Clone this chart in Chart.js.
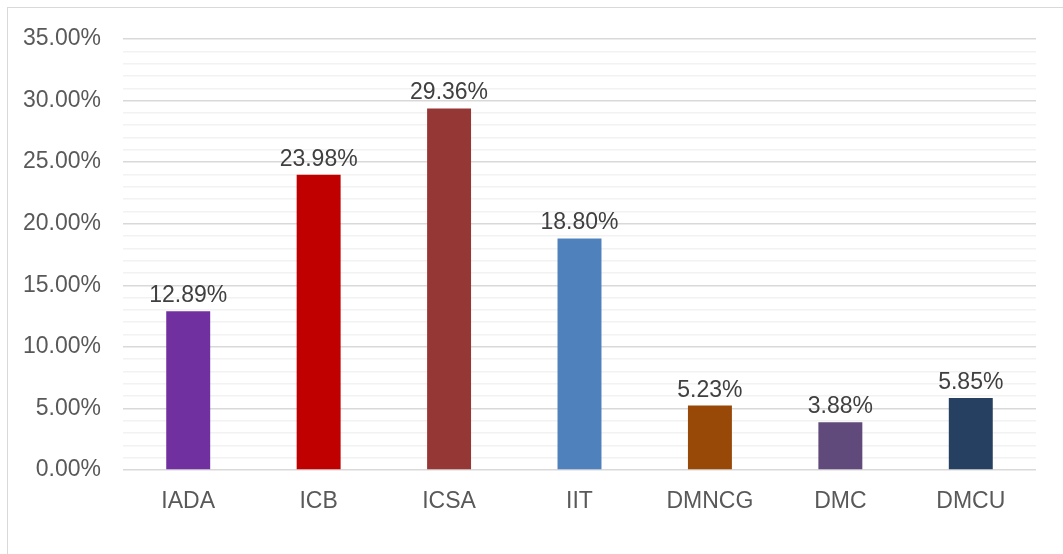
<!DOCTYPE html>
<html lang="en">
<head>
    <meta charset="UTF-8">
    <title>chart</title>
    <style>
        body { margin: 0; background: #fff; }
        #wrap { position: relative; width: 1063px; height: 554px; overflow: hidden; }
        #frame { position: absolute; left: 7px; top: 7px; width: 1100px; height: 600px; border: 1px solid #d9d9d9; }
        #myChart { position: absolute; left: 0; top: 0; }
    </style>
</head>
<body>
    <div id="wrap">
        <div id="frame"></div>
        <canvas id="myChart" width="1063" height="554"></canvas>
    </div>

    <script src="https://cdn.jsdelivr.net/npm/chart.js"></script>
    <script>
        // values in percent
        const categories = ['IADA', 'ICB', 'ICSA', 'IIT', 'DMNCG', 'DMC', 'DMCU'];
        const values = [12.89, 23.98, 29.36, 18.80, 5.23, 3.88, 5.85];
        const barColors = ['#7030A0', '#C00000', '#953735', '#4F81BD', '#984807', '#604A7B', '#254061'];
        const yMax = 35;

        const font = { family: 'Liberation Sans, Arial, sans-serif', size: 23 };

        // bar value labels (no datalabels plugin available)
        const valueLabels = {
            id: 'valueLabels',
            afterDatasetsDraw(chart) {
                const ctx = chart.ctx;
                const meta = chart.getDatasetMeta(0);
                ctx.save();
                ctx.font = font.size + 'px ' + font.family;
                ctx.fillStyle = '#404040';
                ctx.textAlign = 'center';
                ctx.textBaseline = 'alphabetic';
                meta.data.forEach((bar, i) => {
                    ctx.fillText(values[i].toFixed(2) + '%', bar.x, bar.y - 9);
                });
                ctx.restore();
            }
        };

        const ctx = document.getElementById('myChart');

        new Chart(ctx, {
            type: 'bar',
            data: {
                labels: categories,
                datasets: [{
                    data: values,
                    backgroundColor: barColors,
                    barPercentage: 0.337,
                    categoryPercentage: 1,
                }],
            },
            options: {
                responsive: false,
                animation: false,
                layout: {
                    padding: { top: 39, right: 27, left: 0, bottom: 0 }
                },
                plugins: {
                    legend: { display: false },
                    tooltip: { enabled: false },
                },
                scales: {
                    x: {
                        grid: { display: false, drawTicks: false },
                        border: { display: false },
                        ticks: { color: '#595959', font: font, padding: 18 },
                        afterFit: (s) => { s.height = 84; },
                    },
                    y: {
                        min: 0,
                        max: yMax,
                        grid: {
                            drawTicks: false,
                            color: (c) => (c.tick && c.tick.value % 5 === 0) ? '#d9d9d9' : '#f2f2f2',
                            lineWidth: 1.5,
                        },
                        border: { display: false },
                        ticks: {
                            stepSize: 1,
                            color: '#595959',
                            font: font,
                            padding: 22,
                            autoSkip: false,
                            callback: (v) => v % 5 === 0 ? v.toFixed(2) + '%' : '',
                        },
                        afterFit: (s) => { s.width = 123; },
                    },
                },
            },
            plugins: [valueLabels],
        });
    </script>
</body>
</html>
